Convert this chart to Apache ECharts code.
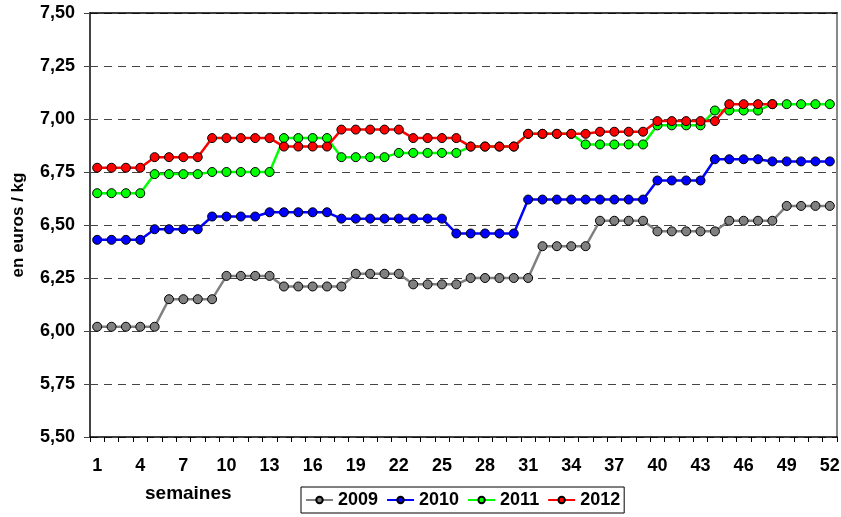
<!DOCTYPE html>
<html>
<head>
<meta charset="utf-8">
<script src="https://cdn.jsdelivr.net/npm/echarts@6/dist/echarts.min.js"></script>
<style>
html,body{margin:0;padding:0;background:#fff;}
#chart{width:841px;height:517px;}
</style>
</head>
<body>
<div id="chart"></div>
<script>
var weeks = [];
for (var i = 1; i <= 52; i++) weeks.push(String(i));

var y2009 = [6.02,6.02,6.02,6.02,6.02, 6.15,6.15,6.15,6.15, 6.26,6.26,6.26,6.26,
  6.21,6.21,6.21,6.21,6.21, 6.27,6.27,6.27,6.27, 6.22,6.22,6.22,6.22,
  6.25,6.25,6.25,6.25,6.25, 6.40,6.40,6.40,6.40, 6.52,6.52,6.52,6.52,
  6.47,6.47,6.47,6.47,6.47, 6.52,6.52,6.52,6.52, 6.59,6.59,6.59,6.59];
var y2010 = [6.43,6.43,6.43,6.43, 6.48,6.48,6.48,6.48, 6.54,6.54,6.54,6.54,
  6.56,6.56,6.56,6.56,6.56, 6.53,6.53,6.53,6.53,6.53,6.53,6.53,6.53,
  6.46,6.46,6.46,6.46,6.46, 6.62,6.62,6.62,6.62,6.62,6.62,6.62,6.62,6.62,
  6.71,6.71,6.71,6.71, 6.81,6.81,6.81,6.81, 6.80,6.80,6.80,6.80,6.80];
var y2011 = [6.65,6.65,6.65,6.65, 6.74,6.74,6.74,6.74, 6.75,6.75,6.75,6.75,6.75,
  6.91,6.91,6.91,6.91, 6.82,6.82,6.82,6.82, 6.84,6.84,6.84,6.84,6.84,
  6.87,6.87,6.87,6.87, 6.93,6.93,6.93,6.93, 6.88,6.88,6.88,6.88,6.88,
  6.97,6.97,6.97,6.97, 7.04,7.04,7.04,7.04, 7.07,7.07,7.07,7.07,7.07];
var y2012 = [6.77,6.77,6.77,6.77, 6.82,6.82,6.82,6.82, 6.91,6.91,6.91,6.91,6.91,
  6.87,6.87,6.87,6.87, 6.95,6.95,6.95,6.95,6.95, 6.91,6.91,6.91,6.91,
  6.87,6.87,6.87,6.87, 6.93,6.93,6.93,6.93,6.93, 6.94,6.94,6.94,6.94,
  6.99,6.99,6.99,6.99,6.99, 7.07,7.07,7.07,7.07];

var seriesNames = ['2009','2010','2011','2012'];
var seriesData = [y2009, y2010, y2011, y2012];
var seriesColors = ['#808080','#0000ff','#00ff00','#ff0000'];

var FONT = '"Liberation Sans", Arial, sans-serif';

var chart = echarts.init(document.getElementById('chart'), null, {renderer:'canvas'});

var series = seriesNames.map(function(n, k){
  return {
    name: n,
    type: 'line',
    data: seriesData[k],
    symbol: 'circle',
    symbolSize: 9,
    showAllSymbol: true,
    lineStyle: {color: seriesColors[k], width: 2.5},
    itemStyle: {color: seriesColors[k], borderColor: '#000', borderWidth: 1},
    emphasis: {disabled: true},
    animation: false,
    z: 2 + k
  };
});

chart.setOption({
  backgroundColor: '#fff',
  animation: false,
  grid: {left: 90, right: 4, top: 13, bottom: 80, containLabel: false, outerBoundsMode: 'none'},
  legend: {
    data: seriesNames,
    left: 301, top: 487,
    padding: [4, 4, 4, 4],
    itemGap: 8,
    itemWidth: 27, itemHeight: 8,
    borderColor: '#000', borderWidth: 1,
    textStyle: {fontFamily: FONT, fontWeight: 'bold', fontSize: 18, color: '#000'}
  },
  graphic: [{
    type: 'text', left: 145, top: 484,
    style: {text: 'semaines', font: 'bold 19px ' + FONT, fill: '#000'}
  }],
  xAxis: [{
    type: 'category',
    data: weeks,
    boundaryGap: true,
    axisLine: {lineStyle: {color: '#000', width: 1.5}},
    axisTick: {show: true, interval: 0, length: 5, lineStyle: {color: '#000'}},
    axisLabel: {interval: 2, margin: 20, fontFamily: FONT, fontWeight: 'bold', fontSize: 18, color: '#000'},
    splitLine: {show: false}
  }, {
    type: 'category',
    data: weeks,
    position: 'top',
    axisLine: {lineStyle: {color: '#000', width: 1.5}},
    axisTick: {show: false},
    axisLabel: {show: false}
  }],
  yAxis: [{
    type: 'value',
    min: 5.5, max: 7.5, interval: 0.25,
    name: 'en euros / kg',
    nameLocation: 'middle',
    nameRotate: 90,
    nameGap: 63,
    nameTextStyle: {fontFamily: FONT, fontWeight: 'bold', fontSize: 17, color: '#000'},
    axisLine: {show: true, lineStyle: {color: '#444', width: 2}},
    axisTick: {show: true, length: 6, lineStyle: {color: '#444'}},
    axisLabel: {
      margin: 15, fontFamily: FONT, fontWeight: 'bold', fontSize: 18, color: '#000',
      formatter: function(v){ return v.toFixed(2).replace('.', ','); }
    },
    splitLine: {show: true, lineStyle: {color: '#444', type: [8, 6], width: 1}}
  }, {
    type: 'value',
    min: 5.5, max: 7.5, interval: 0.25,
    position: 'right',
    axisLine: {show: true, lineStyle: {color: '#888', width: 2}},
    axisTick: {show: false},
    axisLabel: {show: false},
    splitLine: {show: false}
  }],
  series: series
});
</script>
</body>
</html>
